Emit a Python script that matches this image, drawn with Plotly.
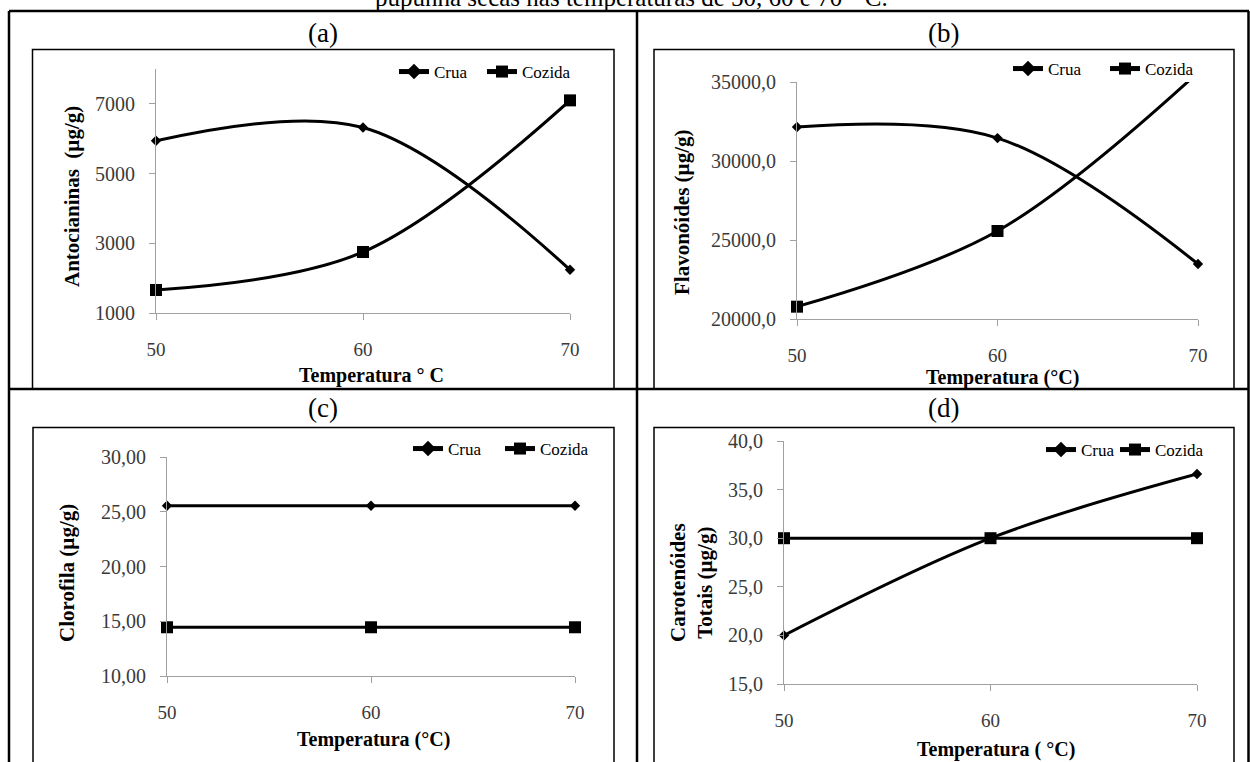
import plotly.graph_objects as go

W, H = 1250, 762

# ---------------- data ----------------
temps = [50, 60, 70]
x_ticks = [50, 60, 70]
series_names = ["Crua", "Cozida"]

antoc_crua = [5940, 6320, 2240]
antoc_cozida = [1660, 2750, 7100]

flav_crua = [32150, 31450, 23480]
flav_cozida = [20780, 25570, 35600]

cloro_crua = [25.55, 25.55, 25.55]
cloro_cozida = [14.45, 14.45, 14.45]

carot_crua = [20.0, 30.0, 36.6]
carot_cozida = [30.0, 30.0, 30.0]

caption = "pupunha secas nas temperaturas de 50, 60 e 70 ° C."
panel_labels = ["(a)", "(b)", "(c)", "(d)"]
x_titles = ["Temperatura ° C", "Temperatura (°C)", "Temperatura (°C)", "Temperatura ( °C)"]
y_titles = ["Antocianinas  (µg/g)", "Flavonóides (µg/g)", "Clorofila (µg/g)",
            "Carotenóides<br>Totais (µg/g)"]


def px(x):
    return x / W


def py(y):
    return 1 - y / H


FONT = "Liberation Serif"
AX_GRAY = "#a0a0a0"
TICK_COLOR = "#3a3a3a"

fig = go.Figure()

panels = [
    # crua, cozida, x domain px, y domain px (top,bottom), y range, dtick, tick0, format,
    # legend line starts (crua, cozida), legend y, line shape
    (antoc_crua, antoc_cozida, (156, 570), (69, 313), [1000, 8000], 2000, 1000, "d",
     (400, 488), 72, "spline"),
    (flav_crua, flav_cozida, (797, 1198), (82, 319), [20000, 35000], 5000, 20000, ".1f",
     (1014, 1111), 69, "spline"),
    (cloro_crua, cloro_cozida, (167, 575), (457, 676), [10, 30], 5, 10, ".2f",
     (414, 506), 449, "linear"),
    (carot_crua, carot_cozida, (784, 1197), (441, 684), [15, 40], 5, 15, ".1f",
     (1047, 1121), 450, "spline"),
]

LEG_DX = 6   # legend box origin -> start of legend line

layout_axes = {}
leg_idx = 0
for i, (crua, coz, xd, yd, yr, dt, t0, fmt, lgx, lgy, shape) in enumerate(panels):
    n = i + 1
    xa = "x" if n == 1 else f"x{n}"
    ya = "y" if n == 1 else f"y{n}"
    xkey = "xaxis" if n == 1 else f"xaxis{n}"
    ykey = "yaxis" if n == 1 else f"yaxis{n}"
    legs = []
    for k in range(2):
        leg_idx += 1
        legs.append("legend" if leg_idx == 1 else f"legend{leg_idx}")
    # a point above the axis maximum is not drawn (as in the source chart)
    crua_sizes = [8 if (yr[0] <= v <= yr[1]) else 0 for v in crua]
    coz_sizes = [12 if (yr[0] <= v <= yr[1]) else 0 for v in coz]
    fig.add_trace(go.Scatter(
        x=temps, y=crua, name=series_names[0], mode="lines+markers",
        line=dict(color="black", width=3, shape=shape, smoothing=1),
        marker=dict(symbol="diamond", size=crua_sizes, color="black", opacity=1,
                    line=dict(width=0)),
        cliponaxis=False, xaxis=xa, yaxis=ya, legend=legs[0]))
    fig.add_trace(go.Scatter(
        x=temps, y=coz, name=series_names[1], mode="lines+markers",
        line=dict(color="black", width=3, shape=shape, smoothing=1),
        marker=dict(symbol="square", size=coz_sizes, color="black", opacity=1,
                    line=dict(width=0)),
        cliponaxis=False, xaxis=xa, yaxis=ya, legend=legs[1]))
    layout_axes[xkey] = dict(
        domain=[px(xd[0]), px(xd[1])], range=[50, 70], anchor=ya,
        tickmode="array", tickvals=x_ticks, ticks="outside", ticklen=6,
        tickcolor=AX_GRAY, showline=True, linecolor=AX_GRAY, linewidth=1,
        showgrid=False, zeroline=False, ticklabelstandoff=13,
        tickfont=dict(family=FONT, size=19, color=TICK_COLOR))
    layout_axes[ykey] = dict(
        domain=[py(yd[1]), py(yd[0])], range=yr, anchor=xa,
        tick0=t0, dtick=dt, tickformat=fmt, ticks="outside", ticklen=6,
        tickcolor=AX_GRAY, showline=True, linecolor=AX_GRAY, linewidth=1,
        showgrid=False, zeroline=False, ticklabelstandoff=10,
        tickfont=dict(family=FONT, size=20, color=TICK_COLOR))
    for k in range(2):
        layout_axes[legs[k]] = dict(
            x=px(lgx[k] - LEG_DX), y=py(lgy), xanchor="left", yanchor="middle",
            orientation="h", bgcolor="rgba(0,0,0,0)", borderwidth=0,
            font=dict(family=FONT, size=17, color="black"),
            itemwidth=30, itemsizing="constant")

fig.update_layout(**layout_axes)

# ---------------- borders ----------------
shapes = []


def box(x0, y0, x1, y1, w):
    shapes.append(dict(type="rect", xref="paper", yref="paper",
                       x0=px(x0), x1=px(x1), y0=py(y1), y1=py(y0),
                       line=dict(color="black", width=w), fillcolor="rgba(0,0,0,0)",
                       layer="above"))


def line(x0, y0, x1, y1, w):
    shapes.append(dict(type="line", xref="paper", yref="paper",
                       x0=px(x0), x1=px(x1), y0=py(y0), y1=py(y1),
                       line=dict(color="black", width=w), layer="above"))


# inner chart-area boxes
box(32.5, 49.5, 614, 389, 1.5)
box(654, 49.5, 1234, 389, 1.5)
box(33, 427.5, 614, 775, 1.5)
box(654, 427.5, 1234, 775, 1.5)
# outer table lines
line(9, 11, 1249, 11, 2.5)
line(9, 11, 9, 762, 2.5)
line(637, 11, 637, 762, 2.5)
line(1248.5, 11, 1248.5, 762, 2.5)
line(9, 389, 1249, 389, 2.5)

# ---------------- text ----------------
ann = []
ann.append(dict(text=caption, x=px(631), y=py(-3), xref="paper", yref="paper",
                showarrow=False, xanchor="center", yanchor="middle",
                font=dict(family=FONT, size=25, color="black")))
label_pos = [(323, 33), (943, 33), (323, 408), (943, 408)]
for t, (lx, ly) in zip(panel_labels, label_pos):
    ann.append(dict(text=t, x=px(lx), y=py(ly), xref="paper", yref="paper",
                    showarrow=False, xanchor="center", yanchor="middle",
                    font=dict(family=FONT, size=27, color="black")))
xt_pos = [(372, 376), (1002, 377), (373, 739), (996, 749)]
for t, (tx, ty) in zip(x_titles, xt_pos):
    ann.append(dict(text=f"<b>{t}</b>", x=px(tx), y=py(ty), xref="paper", yref="paper",
                    showarrow=False, xanchor="center", yanchor="middle",
                    font=dict(family=FONT, size=20, color="black")))
yt_pos = [(72, 197), (682, 212), (67, 573), (691, 583)]
for t, (tx, ty) in zip(y_titles, yt_pos):
    ann.append(dict(text=f"<b>{t}</b>", x=px(tx), y=py(ty), xref="paper", yref="paper",
                    showarrow=False, xanchor="center", yanchor="middle", textangle=-90,
                    font=dict(family=FONT, size=21, color="black")))

fig.update_layout(
    template="none",
    width=W, height=H, margin=dict(l=0, r=0, t=0, b=0),
    paper_bgcolor="white", plot_bgcolor="white",
    font=dict(family=FONT, color="black"),
    separators=",.", shapes=shapes, annotations=ann, showlegend=True,
)

fig.write_html("out.html")
